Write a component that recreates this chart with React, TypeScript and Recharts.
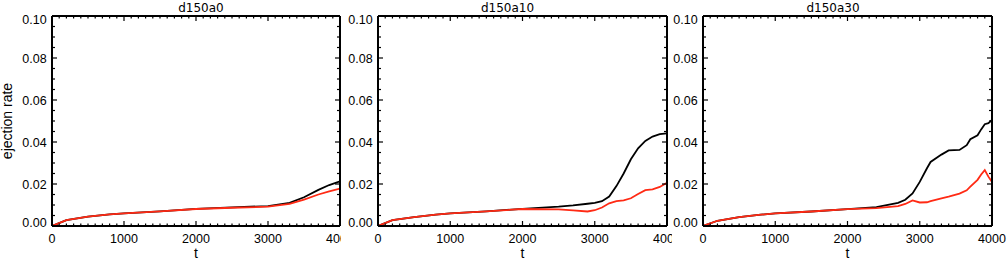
import React from 'react';
import { LineChart, Line, XAxis, YAxis } from 'recharts';

// ---------- data ----------
const T_A0 = [0, 200, 500, 800, 1000, 1500, 2000, 2500, 3000, 3300, 3500, 3700, 3850, 4000];
const BLACK_A0 = [0, 0.0028, 0.0045, 0.0055, 0.006, 0.007, 0.0082, 0.0089, 0.0095, 0.011, 0.0137, 0.0172, 0.0195, 0.0213];
const RED_A0 = [0, 0.0028, 0.0045, 0.0055, 0.006, 0.007, 0.0081, 0.0087, 0.0092, 0.0105, 0.0126, 0.015, 0.0165, 0.0178];

const T_A10 = [0, 200, 500, 800, 1000, 1500, 2000, 2500, 2700, 2900, 3000, 3100, 3200, 3300, 3400, 3500, 3600, 3700, 3800, 3900, 4000];
const BLACK_A10 = [0, 0.0028, 0.0042, 0.0054, 0.006, 0.007, 0.0082, 0.0092, 0.0098, 0.0106, 0.011, 0.0118, 0.014, 0.019, 0.025, 0.0318, 0.037, 0.0405, 0.0426, 0.0437, 0.0441];
const RED_A10 = [0, 0.0028, 0.0042, 0.0054, 0.006, 0.007, 0.0081, 0.0079, 0.0074, 0.0069, 0.0075, 0.0088, 0.0108, 0.0118, 0.0122, 0.0132, 0.0152, 0.0171, 0.0174, 0.0186, 0.0206];

const T_A30 = [0, 200, 500, 800, 1000, 1500, 2000, 2400, 2700, 2800, 2900, 3000, 3100, 3150, 3300, 3400, 3550, 3650, 3700, 3800, 3850, 3900, 3950, 4000];
const BLACK_A30 = [0, 0.0025, 0.0042, 0.0054, 0.006, 0.0069, 0.008, 0.009, 0.011, 0.0125, 0.0155, 0.021, 0.0275, 0.0305, 0.034, 0.036, 0.0362, 0.0385, 0.0413, 0.0432, 0.046, 0.0485, 0.049, 0.0505];
const RED_A30 = [0, 0.0025, 0.0042, 0.0054, 0.006, 0.0069, 0.008, 0.0085, 0.0095, 0.0105, 0.0122, 0.0112, 0.0113, 0.0118, 0.0132, 0.014, 0.0154, 0.017, 0.0187, 0.022, 0.0245, 0.0266, 0.0235, 0.021];

const TITLES = ['d150a0', 'd150a10', 'd150a30'];
const X_LABEL = 't';
const Y_LABEL = 'ejection rate';

const X_DOMAIN: [number, number] = [0, 4000];
const Y_DOMAIN: [number, number] = [0, 0.1];
const X_MAJOR_STEP = 1000;
const X_MINOR_STEP = 100;
const Y_MAJOR_STEP = 0.02;
const Y_MINOR_STEP = 0.005;

const X_TICKS = Array.from({ length: 41 }, (_, i) => i * X_MINOR_STEP);
const Y_TICKS = Array.from({ length: 21 }, (_, i) => +(i * Y_MINOR_STEP).toFixed(3));

const BLACK = '#000000';
const RED = '#ff2a14';
const FONT = '"Liberation Sans", Arial, Helvetica, sans-serif';
const TITLE_FONT = '"DejaVu Sans", sans-serif';

const build = (t: number[], b: number[], r: number[]) =>
  t.map((tt, i) => ({ t: tt, black: b[i], red: r[i] }));

const isXMajor = (v: number) => Math.abs(v / X_MAJOR_STEP - Math.round(v / X_MAJOR_STEP)) < 1e-6;
const isYMajor = (v: number) => Math.abs(v / Y_MAJOR_STEP - Math.round(v / Y_MAJOR_STEP)) < 1e-6;

const TICK_W = 1.2;

function BottomTick(props: any) {
  const { x, y, payload } = props;
  const v = payload.value;
  const major = isXMajor(v);
  return (
    <g>
      <line x1={x} x2={x} y1={y} y2={y - (major ? 5 : 2.5)} stroke={BLACK} strokeWidth={TICK_W} />
      {major ? (
        <text x={x} y={y + 17} textAnchor="middle" fontSize={12.5} fill={BLACK} fontFamily={FONT}>
          {v}
        </text>
      ) : null}
    </g>
  );
}

function TopTick(props: any) {
  const { x, y, payload } = props;
  const major = isXMajor(payload.value);
  return <line x1={x} x2={x} y1={y} y2={y + (major ? 5 : 2.5)} stroke={BLACK} strokeWidth={TICK_W} />;
}

function LeftTick(props: any) {
  const { x, y, payload } = props;
  const v = payload.value;
  const major = isYMajor(v);
  let shift = 0;
  if (v <= Y_DOMAIN[0] + 1e-9) shift = -3.5;
  if (v >= Y_DOMAIN[1] - 1e-9) shift = 3;
  return (
    <g>
      <line x1={x} x2={x + (major ? 5 : 3)} y1={y} y2={y} stroke={BLACK} strokeWidth={TICK_W} />
      {major ? (
        <text x={x - 5.3} y={y + 4.5 + shift} textAnchor="end" fontSize={12.5} fill={BLACK} fontFamily={FONT}>
          {v.toFixed(2)}
        </text>
      ) : null}
    </g>
  );
}

function RightTick(props: any) {
  const { x, y, payload } = props;
  const major = isYMajor(payload.value);
  return <line x1={x} x2={x - (major ? 5 : 3)} y1={y} y2={y} stroke={BLACK} strokeWidth={TICK_W} />;
}

type PanelProps = {
  title: string;
  data: { t: number; black: number; red: number }[];
  left: number;
  boxWidth: number;
  chartWidth: number;
  plotLeft: number;
  rightAxisWidth: number;
  showYLabel: boolean;
};

const HEIGHT = 261;
const TOP_AXIS_H = 16;
const BOTTOM_AXIS_H = 35;

function Panel({ data, left, boxWidth, chartWidth, plotLeft, rightAxisWidth, showYLabel }: PanelProps) {
  return (
    <div style={{ position: 'absolute', left, top: 0, width: boxWidth, height: HEIGHT, overflow: 'hidden' }}>
      <LineChart width={chartWidth} height={HEIGHT} data={data} margin={{ top: 0, right: 0, bottom: 0, left: 0 }}>
        <XAxis
          xAxisId="bottom"
          dataKey="t"
          type="number"
          domain={X_DOMAIN}
          allowDataOverflow
          ticks={X_TICKS}
          interval={0}
          tickSize={0}
          tickMargin={0}
          tickLine={false}
          height={BOTTOM_AXIS_H}
          axisLine={{ stroke: BLACK, strokeWidth: 2 }}
          tick={(p: any) => <BottomTick {...p} />}
          label={(p: any) => {
            const vb = p.viewBox || {};
            return (
              <text x={vb.x + vb.width / 2} y={vb.y + 32} textAnchor="middle" fontSize={14} fill={BLACK} fontFamily={FONT}>
                {X_LABEL}
              </text>
            );
          }}
        />
        <XAxis
          xAxisId="top"
          orientation="top"
          type="number"
          dataKey="t"
          domain={X_DOMAIN}
          allowDataOverflow
          ticks={X_TICKS}
          interval={0}
          tickSize={0}
          tickMargin={0}
          tickLine={false}
          height={TOP_AXIS_H}
          axisLine={{ stroke: BLACK, strokeWidth: 2 }}
          tick={(p: any) => <TopTick {...p} />}
        />
        <YAxis
          yAxisId="left"
          type="number"
          domain={Y_DOMAIN}
          allowDataOverflow
          ticks={Y_TICKS}
          interval={0}
          tickSize={0}
          tickMargin={0}
          tickLine={false}
          width={plotLeft}
          axisLine={{ stroke: BLACK, strokeWidth: 2 }}
          tick={(p: any) => <LeftTick {...p} />}
          label={(p: any) => {
            if (!showYLabel) return null;
            const vb = p.viewBox || {};
            const cy = vb.y + vb.height / 2;
            return (
              <text
                x={12}
                y={cy}
                transform={`rotate(-90, 12, ${cy})`}
                textAnchor="middle"
                fontSize={14}
                fill={BLACK}
                fontFamily={FONT}
              >
                {Y_LABEL}
              </text>
            );
          }}
        />
        <YAxis
          yAxisId="right"
          orientation="right"
          type="number"
          domain={Y_DOMAIN}
          allowDataOverflow
          ticks={Y_TICKS}
          interval={0}
          tickSize={0}
          tickMargin={0}
          tickLine={false}
          width={rightAxisWidth}
          axisLine={{ stroke: BLACK, strokeWidth: 2 }}
          tick={(p: any) => <RightTick {...p} />}
        />
        <Line
          xAxisId="bottom"
          yAxisId="left"
          dataKey="black"
          type="linear"
          stroke={BLACK}
          strokeWidth={1.8}
          dot={false}
          isAnimationActive={false}
        />
        <Line
          xAxisId="bottom"
          yAxisId="left"
          dataKey="red"
          type="linear"
          stroke={RED}
          strokeWidth={1.8}
          dot={false}
          isAnimationActive={false}
        />
      </LineChart>
    </div>
  );
}

export default function App() {
  const panels = [
    { title: TITLES[0], data: build(T_A0, BLACK_A0, RED_A0), left: 0, boxWidth: 341, chartWidth: 370, plotLeft: 52, rightAxisWidth: 30, showYLabel: true, titleX: 201 },
    { title: TITLES[1], data: build(T_A10, BLACK_A10, RED_A10), left: 341, boxWidth: 331, chartWidth: 356, plotLeft: 37, rightAxisWidth: 30, showYLabel: false, titleX: 507.5 },
    { title: TITLES[2], data: build(T_A30, BLACK_A30, RED_A30), left: 672, boxWidth: 336, chartWidth: 336, plotLeft: 31, rightAxisWidth: 16, showYLabel: false, titleX: 833 },
  ];
  return (
    <div style={{ position: 'absolute', left: 0, top: 0, width: 1008, height: HEIGHT, background: '#fff', overflow: 'hidden' }}>
      {panels.map((p) => (
        <Panel key={p.title} {...p} />
      ))}
      <svg width={1008} height={HEIGHT} style={{ position: 'absolute', left: 0, top: 0, pointerEvents: 'none' }}>
        {panels.map((p) => (
          <text key={p.title} x={p.titleX} y={11.5} textAnchor="middle" fontSize={12} fill={BLACK} fontFamily={TITLE_FONT}>
            {p.title}
          </text>
        ))}
      </svg>
    </div>
  );
}
